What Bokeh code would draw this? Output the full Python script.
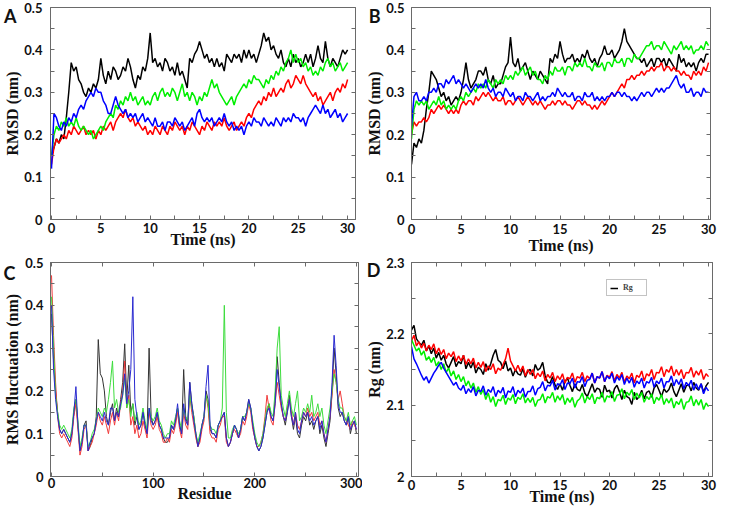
from bokeh.plotting import figure
from bokeh.layouts import row, column
from bokeh.models import (Range1d, LinearAxis, FixedTicker, Legend, LegendItem,
                          CustomJSTickFormatter)
from bokeh.embed import file_html
from bokeh.resources import INLINE

# ---------------- data ----------------
TIME = [i * 0.25 for i in range(121)]          # ns, sampling grid
RESIDUE = list(range(0, 301, 2))               # residue index grid

A_BLACK = [0.15, 0.17, 0.19, 0.18, 0.20, 0.19, 0.24, 0.30, 0.37, 0.35, 0.36, 0.33,
           0.32, 0.30, 0.29, 0.31, 0.30, 0.32, 0.31, 0.33, 0.38, 0.34, 0.32, 0.35,
           0.33, 0.36, 0.35, 0.33, 0.34, 0.36, 0.35, 0.38, 0.36, 0.33, 0.31, 0.34,
           0.33, 0.36, 0.35, 0.38, 0.44, 0.37, 0.38, 0.36, 0.37, 0.35, 0.38, 0.37,
           0.35, 0.36, 0.34, 0.37, 0.34, 0.35, 0.33, 0.31, 0.38, 0.37, 0.39, 0.40,
           0.42, 0.40, 0.38, 0.39, 0.37, 0.38, 0.36, 0.38, 0.36, 0.37, 0.35, 0.39,
           0.38, 0.37, 0.39, 0.38, 0.39, 0.37, 0.40, 0.38, 0.40, 0.38, 0.39, 0.37,
           0.39, 0.41, 0.44, 0.42, 0.43, 0.40, 0.41, 0.39, 0.38, 0.40, 0.37, 0.36,
           0.38, 0.36, 0.39, 0.37, 0.38, 0.36, 0.37, 0.39, 0.37, 0.39, 0.36, 0.38,
           0.41, 0.38, 0.37, 0.42, 0.38, 0.36, 0.38, 0.37, 0.36, 0.38, 0.40, 0.39,
           0.40]
A_RED = [0.13, 0.17, 0.19, 0.18, 0.19, 0.20, 0.19, 0.21, 0.20, 0.22, 0.21, 0.20,
         0.21, 0.22, 0.20, 0.21, 0.20, 0.21, 0.19, 0.21, 0.20, 0.22, 0.21, 0.22,
         0.23, 0.21, 0.23, 0.24, 0.25, 0.24, 0.26, 0.24, 0.23, 0.24, 0.22, 0.23,
         0.22, 0.21, 0.22, 0.20, 0.21, 0.20, 0.22, 0.21, 0.20, 0.22, 0.21, 0.20,
         0.22, 0.21, 0.23, 0.22, 0.21, 0.22, 0.20, 0.22, 0.21, 0.23, 0.22, 0.21,
         0.20, 0.22, 0.21, 0.23, 0.22, 0.21, 0.23, 0.22, 0.23, 0.22, 0.24, 0.22,
         0.21, 0.22, 0.23, 0.21, 0.22, 0.23, 0.22, 0.24, 0.25, 0.24, 0.26, 0.27,
         0.28, 0.27, 0.29, 0.28, 0.30, 0.29, 0.31, 0.29, 0.30, 0.31, 0.30, 0.32,
         0.33, 0.31, 0.32, 0.34, 0.33, 0.32, 0.34, 0.32, 0.31, 0.30, 0.29, 0.30,
         0.28, 0.29, 0.27, 0.28, 0.29, 0.30, 0.28, 0.30, 0.31, 0.30, 0.32, 0.31,
         0.33]
A_GREEN = [0.15, 0.20, 0.22, 0.21, 0.23, 0.22, 0.24, 0.22, 0.23, 0.22, 0.24, 0.22,
           0.21, 0.22, 0.21, 0.20, 0.21, 0.19, 0.20, 0.21, 0.22, 0.21, 0.23, 0.24,
           0.25, 0.24, 0.27, 0.26, 0.28, 0.27, 0.29, 0.28, 0.30, 0.28, 0.29, 0.27,
           0.28, 0.29, 0.27, 0.28, 0.27, 0.29, 0.30, 0.28, 0.30, 0.31, 0.29, 0.30,
           0.29, 0.31, 0.30, 0.28, 0.30, 0.32, 0.29, 0.30, 0.28, 0.30, 0.29, 0.27,
           0.29, 0.28, 0.30, 0.29, 0.31, 0.33, 0.31, 0.32, 0.30, 0.29, 0.28, 0.27,
           0.28, 0.29, 0.27, 0.29, 0.30, 0.31, 0.32, 0.31, 0.33, 0.32, 0.34, 0.33,
           0.33, 0.32, 0.31, 0.33, 0.32, 0.34, 0.33, 0.35, 0.34, 0.36, 0.35, 0.37,
           0.38, 0.40, 0.37, 0.39, 0.37, 0.38, 0.36, 0.37, 0.35, 0.36, 0.34, 0.35,
           0.34, 0.36, 0.35, 0.37, 0.38, 0.36, 0.37, 0.35, 0.36, 0.37, 0.35, 0.36,
           0.37]
A_BLUE = [0.12, 0.25, 0.24, 0.22, 0.21, 0.23, 0.22, 0.24, 0.23, 0.25, 0.24, 0.26,
          0.27, 0.26, 0.28, 0.29, 0.30, 0.29, 0.31, 0.30, 0.30, 0.28, 0.27, 0.25,
          0.25, 0.27, 0.29, 0.27, 0.26, 0.25, 0.26, 0.24, 0.25, 0.24, 0.25, 0.23,
          0.24, 0.25, 0.23, 0.24, 0.23, 0.22, 0.24, 0.22, 0.22, 0.23, 0.21, 0.23,
          0.23, 0.22, 0.24, 0.23, 0.22, 0.23, 0.21, 0.22, 0.23, 0.24, 0.22, 0.25,
          0.26, 0.24, 0.23, 0.24, 0.23, 0.24, 0.22, 0.23, 0.24, 0.23, 0.25, 0.23,
          0.22, 0.23, 0.21, 0.22, 0.21, 0.22, 0.20, 0.22, 0.23, 0.22, 0.24, 0.23,
          0.23, 0.22, 0.24, 0.23, 0.22, 0.23, 0.22, 0.24, 0.23, 0.22, 0.24, 0.23,
          0.24, 0.23, 0.25, 0.24, 0.24, 0.23, 0.24, 0.22, 0.24, 0.25, 0.26, 0.27,
          0.26, 0.25, 0.27, 0.25, 0.26, 0.24, 0.25, 0.26, 0.24, 0.25, 0.23, 0.24,
          0.25]

B_BLACK = [0.13, 0.18, 0.17, 0.19, 0.18, 0.21, 0.26, 0.30, 0.35, 0.34, 0.33, 0.31,
           0.29, 0.30, 0.28, 0.29, 0.27, 0.28, 0.29, 0.28, 0.30, 0.33, 0.37, 0.33,
           0.31, 0.32, 0.33, 0.35, 0.35, 0.34, 0.36, 0.33, 0.32, 0.34, 0.31, 0.32,
           0.32, 0.34, 0.36, 0.37, 0.43, 0.37, 0.36, 0.38, 0.35, 0.36, 0.37, 0.35,
           0.33, 0.35, 0.34, 0.33, 0.35, 0.34, 0.33, 0.32, 0.38, 0.37, 0.39, 0.38,
           0.42, 0.39, 0.37, 0.38, 0.38, 0.39, 0.37, 0.38, 0.37, 0.39, 0.38, 0.40,
           0.38, 0.37, 0.38, 0.36, 0.38, 0.39, 0.41, 0.39, 0.39, 0.40, 0.38, 0.39,
           0.40, 0.42, 0.45, 0.42, 0.41, 0.40, 0.39, 0.38, 0.38, 0.37, 0.38, 0.36,
           0.37, 0.38, 0.36, 0.38, 0.38, 0.37, 0.38, 0.36, 0.38, 0.37, 0.36, 0.35,
           0.39, 0.37, 0.38, 0.36, 0.37, 0.36, 0.37, 0.35, 0.37, 0.38, 0.37, 0.39,
           0.39]
B_RED = [0.20, 0.23, 0.22, 0.23, 0.23, 0.24, 0.23, 0.24, 0.26, 0.25, 0.26, 0.27,
         0.26, 0.27, 0.26, 0.25, 0.26, 0.25, 0.26, 0.25, 0.27, 0.28, 0.27, 0.28,
         0.28, 0.27, 0.29, 0.28, 0.29, 0.30, 0.29, 0.30, 0.29, 0.28, 0.29, 0.28,
         0.28, 0.29, 0.27, 0.28, 0.28, 0.27, 0.28, 0.29, 0.28, 0.27, 0.28, 0.29,
         0.28, 0.27, 0.28, 0.27, 0.28, 0.27, 0.26, 0.27, 0.27, 0.28, 0.27, 0.28,
         0.28, 0.27, 0.28, 0.27, 0.27, 0.26, 0.27, 0.28, 0.28, 0.27, 0.28, 0.27,
         0.27, 0.26, 0.27, 0.26, 0.27, 0.28, 0.27, 0.28, 0.29, 0.30, 0.29, 0.30,
         0.31, 0.32, 0.31, 0.33, 0.33, 0.34, 0.33, 0.34, 0.34, 0.35, 0.34, 0.35,
         0.35, 0.36, 0.35, 0.36, 0.36, 0.37, 0.35, 0.36, 0.36, 0.35, 0.36, 0.35,
         0.35, 0.34, 0.35, 0.34, 0.34, 0.33, 0.35, 0.34, 0.35, 0.34, 0.36, 0.35,
         0.37]
B_GREEN = [0.19, 0.26, 0.28, 0.27, 0.28, 0.27, 0.28, 0.26, 0.27, 0.28, 0.27, 0.29,
           0.27, 0.28, 0.26, 0.27, 0.26, 0.27, 0.26, 0.28, 0.29, 0.28, 0.30, 0.29,
           0.30, 0.31, 0.30, 0.32, 0.31, 0.32, 0.31, 0.33, 0.32, 0.31, 0.33, 0.32,
           0.33, 0.32, 0.34, 0.33, 0.34, 0.33, 0.35, 0.34, 0.35, 0.36, 0.34, 0.35,
           0.36, 0.34, 0.35, 0.33, 0.33, 0.32, 0.34, 0.33, 0.35, 0.34, 0.36, 0.35,
           0.35, 0.36, 0.34, 0.36, 0.36, 0.35, 0.37, 0.36, 0.37, 0.36, 0.38, 0.36,
           0.36, 0.35, 0.37, 0.36, 0.36, 0.37, 0.35, 0.37, 0.37, 0.36, 0.38, 0.37,
           0.37, 0.38, 0.36, 0.38, 0.38, 0.37, 0.39, 0.38, 0.38, 0.39, 0.40, 0.41,
           0.41, 0.42, 0.40, 0.41, 0.41, 0.40, 0.42, 0.41, 0.40, 0.39, 0.41, 0.40,
           0.41, 0.42, 0.40, 0.41, 0.40, 0.41, 0.39, 0.40, 0.40, 0.41, 0.40, 0.42,
           0.41]
B_BLUE = [0.22, 0.29, 0.30, 0.28, 0.28, 0.29, 0.28, 0.30, 0.30, 0.31, 0.30, 0.32,
          0.32, 0.31, 0.33, 0.32, 0.33, 0.34, 0.32, 0.33, 0.32, 0.31, 0.32, 0.31,
          0.30, 0.31, 0.32, 0.31, 0.32, 0.31, 0.33, 0.31, 0.30, 0.31, 0.29, 0.30,
          0.30, 0.29, 0.31, 0.30, 0.29, 0.30, 0.28, 0.29, 0.29, 0.28, 0.30, 0.29,
          0.29, 0.28, 0.29, 0.30, 0.28, 0.29, 0.28, 0.29, 0.29, 0.30, 0.29, 0.31,
          0.30, 0.29, 0.30, 0.29, 0.29, 0.30, 0.28, 0.29, 0.29, 0.28, 0.30, 0.29,
          0.29, 0.30, 0.28, 0.29, 0.28, 0.29, 0.28, 0.29, 0.29, 0.30, 0.29, 0.30,
          0.30, 0.29, 0.30, 0.29, 0.29, 0.28, 0.29, 0.28, 0.29, 0.30, 0.29, 0.30,
          0.30, 0.29, 0.30, 0.31, 0.30, 0.31, 0.30, 0.31, 0.31, 0.32, 0.33, 0.34,
          0.32, 0.31, 0.32, 0.30, 0.30, 0.31, 0.29, 0.30, 0.30, 0.29, 0.31, 0.30,
          0.30]

C_BLACK = [0.38, 0.27, 0.20, 0.15, 0.11, 0.10, 0.11, 0.10, 0.09, 0.08,
           0.10, 0.15, 0.18, 0.12, 0.06, 0.08, 0.12, 0.13, 0.06, 0.07,
           0.09, 0.10, 0.14, 0.32, 0.24, 0.23, 0.20, 0.14, 0.12, 0.15,
           0.17, 0.13, 0.16, 0.14, 0.18, 0.22, 0.31, 0.18, 0.26, 0.15,
           0.17, 0.12, 0.14, 0.11, 0.12, 0.15, 0.12, 0.10, 0.30, 0.14,
           0.12, 0.13, 0.15, 0.12, 0.11, 0.09, 0.08, 0.08, 0.09, 0.12,
           0.11, 0.13, 0.16, 0.12, 0.10, 0.25, 0.14, 0.12, 0.22, 0.17,
           0.14, 0.10, 0.07, 0.09, 0.12, 0.14, 0.20, 0.18, 0.11, 0.10,
           0.10, 0.09, 0.12, 0.13, 0.14, 0.15, 0.09, 0.07, 0.08, 0.10,
           0.12, 0.11, 0.09, 0.11, 0.14, 0.13, 0.15, 0.18, 0.16, 0.12,
           0.09, 0.07, 0.06, 0.07, 0.09, 0.12, 0.15, 0.17, 0.14, 0.13,
           0.18, 0.28, 0.22, 0.17, 0.14, 0.12, 0.15, 0.19, 0.14, 0.11,
           0.14, 0.10, 0.09, 0.12, 0.14, 0.13, 0.15, 0.12, 0.13, 0.11,
           0.13, 0.14, 0.10, 0.12, 0.09, 0.07, 0.10, 0.13, 0.20, 0.30,
           0.24, 0.16, 0.14, 0.15, 0.13, 0.12, 0.14, 0.10, 0.12, 0.13,
           0.10]
C_RED = [0.47, 0.33, 0.22, 0.14, 0.10, 0.09, 0.10, 0.09, 0.08, 0.07,
         0.09, 0.14, 0.17, 0.11, 0.05, 0.07, 0.11, 0.12, 0.06, 0.07,
         0.08, 0.10, 0.12, 0.15, 0.13, 0.12, 0.14, 0.12, 0.10, 0.13,
         0.15, 0.12, 0.15, 0.13, 0.17, 0.20, 0.27, 0.16, 0.19, 0.12,
         0.14, 0.10, 0.12, 0.09, 0.10, 0.13, 0.11, 0.09, 0.15, 0.12,
         0.11, 0.12, 0.14, 0.11, 0.10, 0.08, 0.08, 0.09, 0.08, 0.11,
         0.10, 0.12, 0.15, 0.11, 0.09, 0.15, 0.12, 0.11, 0.19, 0.15,
         0.12, 0.09, 0.07, 0.08, 0.11, 0.13, 0.19, 0.16, 0.10, 0.09,
         0.09, 0.08, 0.11, 0.12, 0.14, 0.14, 0.08, 0.07, 0.08, 0.10,
         0.11, 0.10, 0.09, 0.10, 0.13, 0.12, 0.14, 0.17, 0.15, 0.11,
         0.09, 0.07, 0.07, 0.08, 0.10, 0.14, 0.19, 0.16, 0.13, 0.12,
         0.17, 0.22, 0.19, 0.16, 0.14, 0.13, 0.16, 0.18, 0.15, 0.12,
         0.15, 0.12, 0.11, 0.13, 0.15, 0.14, 0.16, 0.14, 0.15, 0.13,
         0.14, 0.15, 0.12, 0.13, 0.10, 0.08, 0.11, 0.14, 0.19, 0.25,
         0.22, 0.18, 0.20, 0.17, 0.14, 0.13, 0.12, 0.11, 0.13, 0.12,
         0.11]
C_GREEN = [0.42, 0.30, 0.19, 0.15, 0.12, 0.11, 0.12, 0.11, 0.10, 0.09,
           0.11, 0.16, 0.18, 0.13, 0.07, 0.09, 0.12, 0.12, 0.07, 0.08,
           0.10, 0.11, 0.13, 0.16, 0.15, 0.14, 0.16, 0.15, 0.18, 0.22,
           0.27, 0.16, 0.18, 0.15, 0.16, 0.19, 0.23, 0.16, 0.18, 0.14,
           0.17, 0.13, 0.15, 0.12, 0.13, 0.16, 0.13, 0.11, 0.16, 0.14,
           0.13, 0.14, 0.16, 0.13, 0.12, 0.10, 0.09, 0.10, 0.10, 0.13,
           0.12, 0.14, 0.16, 0.13, 0.11, 0.16, 0.14, 0.13, 0.19, 0.16,
           0.14, 0.10, 0.08, 0.10, 0.12, 0.14, 0.19, 0.17, 0.12, 0.11,
           0.11, 0.10, 0.12, 0.13, 0.16, 0.40, 0.15, 0.09, 0.09, 0.11,
           0.12, 0.11, 0.10, 0.11, 0.14, 0.14, 0.15, 0.17, 0.16, 0.13,
           0.10, 0.08, 0.07, 0.08, 0.10, 0.13, 0.16, 0.17, 0.15, 0.14,
           0.20, 0.30, 0.35, 0.19, 0.16, 0.14, 0.17, 0.20, 0.16, 0.14,
           0.17, 0.20, 0.13, 0.14, 0.16, 0.15, 0.17, 0.15, 0.19, 0.14,
           0.15, 0.17, 0.14, 0.16, 0.12, 0.10, 0.13, 0.16, 0.20, 0.24,
           0.22, 0.18, 0.16, 0.16, 0.14, 0.13, 0.15, 0.12, 0.13, 0.14,
           0.12]
C_BLUE = [0.40, 0.25, 0.18, 0.14, 0.11, 0.10, 0.11, 0.10, 0.09, 0.08,
          0.10, 0.15, 0.21, 0.12, 0.06, 0.08, 0.12, 0.12, 0.06, 0.08,
          0.09, 0.10, 0.13, 0.15, 0.14, 0.13, 0.15, 0.13, 0.12, 0.16,
          0.16, 0.13, 0.15, 0.14, 0.17, 0.19, 0.24, 0.17, 0.20, 0.25,
          0.42, 0.18, 0.14, 0.11, 0.12, 0.15, 0.12, 0.10, 0.16, 0.13,
          0.12, 0.13, 0.15, 0.12, 0.11, 0.09, 0.09, 0.09, 0.09, 0.12,
          0.11, 0.13, 0.17, 0.12, 0.10, 0.17, 0.13, 0.12, 0.22, 0.17,
          0.13, 0.10, 0.07, 0.09, 0.12, 0.14, 0.21, 0.26, 0.12, 0.10,
          0.10, 0.09, 0.12, 0.13, 0.14, 0.15, 0.09, 0.07, 0.08, 0.10,
          0.12, 0.11, 0.09, 0.11, 0.14, 0.13, 0.15, 0.18, 0.16, 0.12,
          0.09, 0.07, 0.06, 0.07, 0.09, 0.12, 0.15, 0.16, 0.14, 0.13,
          0.17, 0.25, 0.21, 0.17, 0.14, 0.13, 0.15, 0.18, 0.14, 0.12,
          0.15, 0.11, 0.10, 0.13, 0.15, 0.14, 0.15, 0.13, 0.14, 0.12,
          0.13, 0.14, 0.11, 0.13, 0.10, 0.08, 0.11, 0.14, 0.22, 0.33,
          0.26, 0.17, 0.15, 0.15, 0.13, 0.12, 0.14, 0.11, 0.12, 0.13,
          0.11]

D_BLACK = [2.205, 2.212, 2.193, 2.188, 2.184, 2.191, 2.176, 2.183, 2.172, 2.180, 2.166, 2.174,
           2.163, 2.170, 2.158, 2.152, 2.160, 2.168, 2.154, 2.161, 2.158, 2.170, 2.151, 2.160,
           2.152, 2.161, 2.145, 2.153, 2.150, 2.143, 2.158, 2.149, 2.158, 2.170, 2.178, 2.163,
           2.160, 2.151, 2.162, 2.148, 2.152, 2.141, 2.150, 2.144, 2.142, 2.151, 2.139, 2.148,
           2.150, 2.141, 2.157, 2.149, 2.152, 2.160, 2.141, 2.132, 2.131, 2.140, 2.128, 2.122,
           2.130, 2.121, 2.133, 2.138, 2.128, 2.119, 2.130, 2.122, 2.120, 2.129, 2.117, 2.112,
           2.121, 2.130, 2.118, 2.124, 2.122, 2.111, 2.128, 2.119, 2.121, 2.110, 2.123, 2.128,
           2.119, 2.108, 2.121, 2.112, 2.110, 2.101, 2.118, 2.108, 2.112, 2.121, 2.109, 2.118,
           2.120, 2.111, 2.124, 2.129, 2.121, 2.112, 2.123, 2.118, 2.122, 2.131, 2.119, 2.112,
           2.121, 2.130, 2.118, 2.127, 2.129, 2.120, 2.132, 2.124, 2.121, 2.130, 2.118, 2.127,
           2.132]
D_RED = [2.190, 2.198, 2.183, 2.189, 2.180, 2.187, 2.176, 2.184, 2.178, 2.186, 2.172, 2.180,
         2.171, 2.178, 2.165, 2.173, 2.168, 2.175, 2.161, 2.169, 2.162, 2.170, 2.157, 2.165,
         2.158, 2.166, 2.152, 2.160, 2.153, 2.161, 2.147, 2.155, 2.150, 2.158, 2.144, 2.152,
         2.149, 2.157, 2.165, 2.180, 2.162, 2.155, 2.148, 2.156, 2.147, 2.155, 2.141, 2.150,
         2.143, 2.150, 2.137, 2.145, 2.140, 2.148, 2.134, 2.143, 2.138, 2.146, 2.133, 2.141,
         2.136, 2.144, 2.131, 2.139, 2.137, 2.145, 2.132, 2.140, 2.138, 2.146, 2.133, 2.141,
         2.137, 2.145, 2.131, 2.140, 2.138, 2.147, 2.133, 2.142, 2.139, 2.147, 2.134, 2.143,
         2.138, 2.146, 2.132, 2.141, 2.137, 2.145, 2.131, 2.142, 2.139, 2.148, 2.134, 2.144,
         2.141, 2.150, 2.136, 2.146, 2.145, 2.154, 2.140, 2.150, 2.146, 2.155, 2.141, 2.150,
         2.142, 2.150, 2.137, 2.146, 2.145, 2.153, 2.139, 2.148, 2.142, 2.150, 2.136, 2.144,
         2.140]
D_GREEN = [2.192, 2.184, 2.176, 2.180, 2.170, 2.176, 2.163, 2.168, 2.160, 2.167, 2.155, 2.161,
           2.150, 2.158, 2.146, 2.152, 2.141, 2.148, 2.136, 2.143, 2.133, 2.140, 2.127, 2.134,
           2.124, 2.131, 2.118, 2.126, 2.115, 2.122, 2.108, 2.117, 2.104, 2.112, 2.098, 2.108,
           2.106, 2.114, 2.101, 2.110, 2.107, 2.115, 2.102, 2.111, 2.108, 2.116, 2.103, 2.110,
           2.104, 2.111, 2.098, 2.107, 2.108, 2.116, 2.103, 2.112, 2.110, 2.118, 2.104, 2.113,
           2.107, 2.115, 2.101, 2.110, 2.104, 2.111, 2.097, 2.106, 2.109, 2.117, 2.103, 2.112,
           2.108, 2.116, 2.102, 2.111, 2.109, 2.118, 2.104, 2.113, 2.111, 2.119, 2.105, 2.114,
           2.115, 2.123, 2.109, 2.118, 2.114, 2.122, 2.108, 2.117, 2.110, 2.118, 2.104, 2.112,
           2.108, 2.116, 2.102, 2.111, 2.107, 2.115, 2.101, 2.109, 2.103, 2.110, 2.096, 2.105,
           2.101, 2.109, 2.094, 2.104, 2.105, 2.113, 2.099, 2.108, 2.100, 2.108, 2.094, 2.103,
           2.098]
D_BLUE = [2.182, 2.165, 2.158, 2.150, 2.142, 2.135, 2.140, 2.131, 2.138, 2.145, 2.150, 2.156,
          2.160, 2.152, 2.146, 2.140, 2.134, 2.128, 2.132, 2.124, 2.121, 2.128, 2.116, 2.123,
          2.118, 2.126, 2.113, 2.121, 2.119, 2.127, 2.114, 2.122, 2.118, 2.126, 2.112, 2.121,
          2.117, 2.125, 2.110, 2.120, 2.118, 2.126, 2.112, 2.121, 2.117, 2.124, 2.111, 2.119,
          2.119, 2.127, 2.114, 2.123, 2.125, 2.133, 2.120, 2.128, 2.127, 2.135, 2.121, 2.130,
          2.128, 2.136, 2.122, 2.131, 2.130, 2.138, 2.124, 2.133, 2.132, 2.140, 2.126, 2.135,
          2.136, 2.145, 2.131, 2.140, 2.138, 2.147, 2.133, 2.141, 2.137, 2.145, 2.131, 2.140,
          2.135, 2.143, 2.129, 2.138, 2.131, 2.139, 2.125, 2.134, 2.130, 2.138, 2.124, 2.133,
          2.131, 2.139, 2.125, 2.134, 2.130, 2.138, 2.124, 2.133, 2.133, 2.141, 2.127, 2.136,
          2.129, 2.137, 2.123, 2.132, 2.127, 2.135, 2.121, 2.130, 2.122, 2.130, 2.116, 2.125,
          2.120]

TIME_TICKS = [0, 5, 10, 15, 20, 25, 30]
TIME_MINOR = [2.5, 7.5, 12.5, 17.5, 22.5, 27.5]
RMSD_TICKS = [0, 0.1, 0.2, 0.3, 0.4, 0.5]
RMSD_MINOR = [0.05, 0.15, 0.25, 0.35, 0.45]
RES_TICKS = [0, 100, 200, 300]
RES_MINOR = [50, 150, 250]
RG_TICKS = [2.0, 2.1, 2.2, 2.3]
RG_MINOR = [2.05, 2.15, 2.25]

COLORS = ["#000000", "#ff0000", "#00ee00", "#0000ff"]
C_COLORS = ["#333333", "#f03a3a", "#3ddc3d", "#2a2ad0"]

TICK_FONT = "Lato"
TITLE_FONT = "Liberation Serif"
FRAME = "#6a6a6a"


def style_axis(ax, ticks, minor, standoff, show=True, overrides=None):
    ax.ticker = FixedTicker(ticks=ticks, minor_ticks=minor)
    ax.major_tick_in = 4
    ax.major_tick_out = 0
    ax.minor_tick_in = 4
    ax.minor_tick_out = 0
    ax.major_tick_line_color = FRAME
    ax.minor_tick_line_color = FRAME
    ax.axis_line_color = FRAME
    ax.major_label_standoff = standoff
    ax.major_label_text_font = TICK_FONT
    ax.major_label_text_font_style = "bold"
    ax.major_label_text_color = "#111111"
    if show:
        ax.major_label_text_font_size = "13px"
    else:
        ax.formatter = CustomJSTickFormatter(code="return ''")
        ax.major_label_text_font_size = "1px"
    if overrides:
        ax.major_label_overrides = overrides
    ax.axis_label_text_font = TITLE_FONT
    ax.axis_label_text_font_style = "bold"
    ax.axis_label_text_font_size = "16px"
    ax.axis_label_text_color = "#111111"


def make_panel(width, height, xr, yr, borders, xt, xm, yt, ym, xstand, ystand,
               top_axis, yover, xlabel, ylabel, xlab_stand, letter, letter_y,
               letter_stand, ylab_stand):
    l, r, t, b = borders
    p = figure(width=width, height=height, x_range=Range1d(*xr), y_range=Range1d(*yr),
               output_backend="svg", toolbar_location=None,
               min_border_left=l, min_border_right=r, min_border_top=t, min_border_bottom=b,
               background_fill_color="white", border_fill_color="white",
               outline_line_color=FRAME, outline_line_width=1)
    p.xgrid.visible = False
    p.ygrid.visible = False
    style_axis(p.xaxis[0], xt, xm, xstand)
    p.xaxis[0].axis_label = xlabel
    p.xaxis[0].axis_label_standoff = xlab_stand
    style_axis(p.yaxis[0], yt, ym, ystand, overrides=yover)
    # outer left axis: carries the panel letter (near the top) and the y title
    la = LinearAxis(ticker=FixedTicker(ticks=[letter_y], minor_ticks=[]),
                    major_label_overrides={letter_y: letter})
    la.major_tick_in = 0
    la.major_tick_out = 0
    la.minor_tick_in = 0
    la.minor_tick_out = 0
    la.major_tick_line_color = None
    la.minor_tick_line_color = None
    la.axis_line_color = None
    la.major_label_standoff = letter_stand
    la.major_label_text_font = TICK_FONT
    la.major_label_text_font_style = "bold"
    la.major_label_text_font_size = "18px"
    la.major_label_text_color = "#111111"
    la.axis_label = ylabel
    la.axis_label_standoff = ylab_stand
    la.axis_label_text_font = TITLE_FONT
    la.axis_label_text_font_style = "bold"
    la.axis_label_text_font_size = "16px"
    la.axis_label_text_color = "#111111"
    p.add_layout(la, "left")
    ra = LinearAxis()
    style_axis(ra, yt, ym, 0, show=False)
    p.add_layout(ra, "right")
    if top_axis:
        ta = LinearAxis()
        style_axis(ta, xt, xm, 0, show=False)
        p.add_layout(ta, "above")
    return p


# ---------- Panel A ----------
pA = make_panel(362, 256, (-0.1, 30.8), (0, 0.5), (44, 7, 7, 33),
                TIME_TICKS, TIME_MINOR, RMSD_TICKS, RMSD_MINOR, 3, 8, False, {0: "0"},
                "Time (ns)", "RMSD (nm)", -5, "A", 0.5, 5, -20)
for ys, c in zip([A_BLACK, A_RED, A_GREEN, A_BLUE], COLORS):
    pA.line(TIME, ys, line_color=c, line_width=1.5)

# ---------- Panel B ----------
pB = make_panel(355, 256, (0, 30.2), (0, 0.5), (43, 7, 7, 35),
                TIME_TICKS, TIME_MINOR, RMSD_TICKS, RMSD_MINOR, 4, 7, False, {0: "0"},
                "Time (ns)", "RMSD (nm)", 0, "B", 0.5, 3, -17)
for ys, c in zip([B_BLACK, B_RED, B_GREEN, B_BLUE], COLORS):
    pB.line(TIME, ys, line_color=c, line_width=1.5)

# ---------- Panel C ----------
pC = make_panel(362, 251, (-1, 302), (0, 0.5), (44, 4, 6, 29),
                RES_TICKS, RES_MINOR, RMSD_TICKS, RMSD_MINOR, 1, 7, True, {0: "0"},
                "Residue", "RMS fluctuation (nm)", -6, "C", 0.5, 7, -20)
for ys, c in zip([C_BLACK, C_RED, C_GREEN, C_BLUE], C_COLORS):
    pC.line(RESIDUE, ys, line_color=c, line_width=1)

# ---------- Panel D ----------
pD = make_panel(355, 251, (0, 30.4), (2.0, 2.3), (42, 5, 5, 31),
                TIME_TICKS, TIME_MINOR, RG_TICKS, RG_MINOR, 3, 7, True, {2: "2"},
                "Time (ns)", "Rg (nm)", -5, "D", 2.297, 3, -19)
d_lines = []
for ys, c in zip([D_BLACK, D_RED, D_GREEN, D_BLUE], COLORS):
    d_lines.append(pD.line(TIME, ys, line_color=c, line_width=1.5))
legend = Legend(items=[LegendItem(label="Rg", renderers=[d_lines[0]])],
                location=(195, 180), glyph_width=8, glyph_height=8,
                label_text_font=TITLE_FONT, label_text_font_size="8px",
                label_text_font_style="bold", label_standoff=5, label_height=8,
                padding=3, margin=0, spacing=0,
                border_line_color="#888888", border_line_width=1,
                background_fill_color="white", background_fill_alpha=1.0)
pD.add_layout(legend)

layout = column(row(pA, pB), row(pC, pD))
open("out.html", "w").write(file_html(layout, INLINE))
